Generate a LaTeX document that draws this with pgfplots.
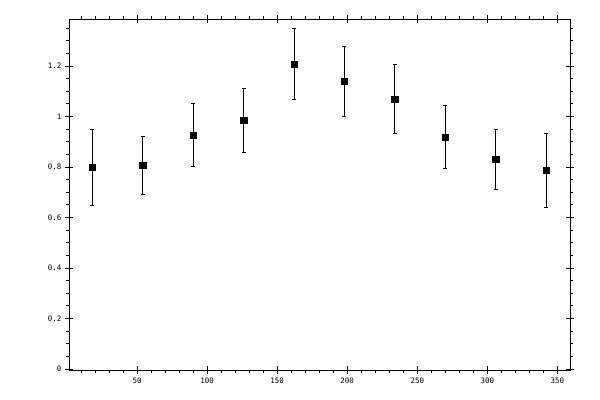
\documentclass[border=0pt]{standalone}
\usepackage{pgfplots}
\pgfplotsset{compat=1.18}
\usepackage{fontspec}
\setmainfont{DejaVu Sans Mono}

\pgfplotstableread{
x    y      e
18   0.799  0.150
54   0.807  0.115
90   0.926  0.125
126  0.985  0.127
162  1.207  0.140
198  1.139  0.137
234  1.068  0.137
270  0.918  0.124
306  0.830  0.117
342  0.787  0.146
}\pts

\pgfplotsset{
  box/.style={
    at={(69bp,30bp)}, anchor=south west,
    scale only axis, width=501bp, height=351bp,
    xmin=1.4, xmax=359, ymin=-0.004, ymax=1.386,
    axis line style={line width=0.8bp},
    every tick/.style={black, line width=0.8bp},
    tick pos=both,
  },
}

\begin{document}
\begin{tikzpicture}
\useasboundingbox (0,0) rectangle (600bp,400bp);
% minor ticks, pointing out of the box
\begin{axis}[box,
    xtick={10,20,...,350},
    ytick={0.05,0.1,...,1.36},
    xticklabels={}, yticklabels={},
    tick align=outside,
    major tick length=3bp,
  ]
\end{axis}
% major ticks, centred on the box, with labels
\begin{axis}[box,
    xtick={50,100,...,350},
    ytick={0,0.2,0.4,0.6,0.8,1,1.2},
    tick align=center,
    major tick length=8bp,
    xticklabel pos=lower, yticklabel pos=left,
    ticklabel style={font=\fontsize{7.5}{9}\selectfont},
    /pgf/number format/assume math mode=true,
  ]
  \addplot[black, only marks, mark=square*, mark size=3.2bp,
    error bars/.cd, y dir=both, y explicit,
    error bar style={line width=0.8bp},
    error mark options={rotate=90, mark size=2bp, line width=0.8bp}]
    table[x=x, y=y, y error=e] {\pts};
\end{axis}
\end{tikzpicture}
\end{document}
